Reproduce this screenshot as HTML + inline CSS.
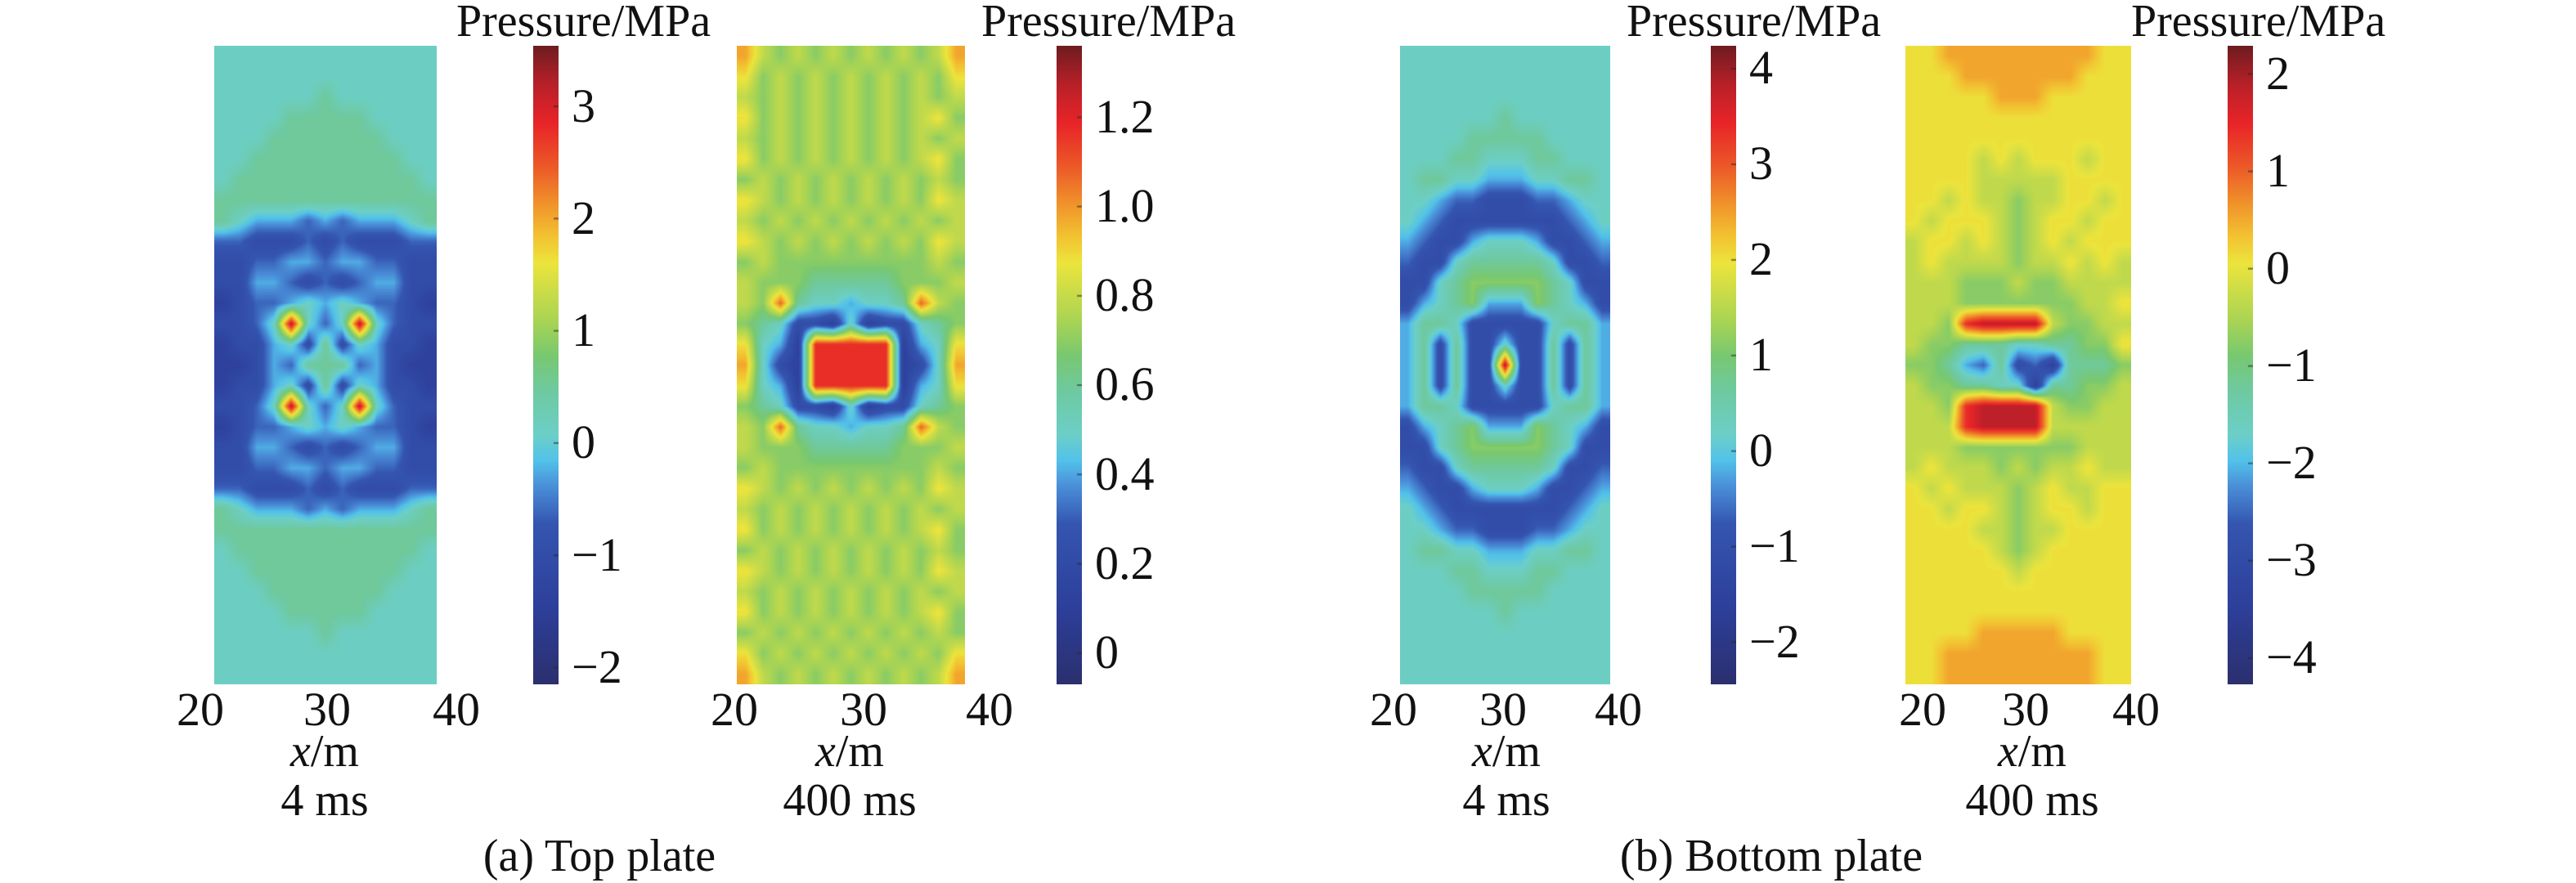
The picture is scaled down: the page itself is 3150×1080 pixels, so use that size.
<!DOCTYPE html>
<html><head><meta charset="utf-8">
<style>
html,body{margin:0;padding:0;background:#fff;}
#root{position:relative;width:3150px;height:1080px;overflow:hidden;background:#fff;}
canvas{position:absolute;}
.t{position:absolute;white-space:nowrap;line-height:1;color:#111;font-family:"Liberation Serif","Times New Roman","DejaVu Serif",serif;}
.m{transform:translateX(-50%);}
</style></head>
<body>
<div id="root"></div>
<script>
// ---- data: pressure grids as hex levels (0..f over each colorbar range) ----
const gridTop4 = [
"6666666666666","6666666666666","6666667666666","6666777776666","6667777777666",
"6677777777766","6777777777776","7777777777777","7655545455567","4433343433344",
"3344554554433","3355434345533","2344565654432","3346e646e6433","2335637365332",
"2235477745322","2335637365332","3346e646e6433","2344565654432","3355434345533",
"3344554554433","4433343433344","7655545455567","7777777777777","6777777777776",
"6677777777766","6667777777666","6666777776666","6666667666666","6666666666666","6666666666666"];
const gridTop400 = [
"b98989898989b","a89898989898a","9898989898989","a8989898989a8","9898989898989",
"a8989898989a8","8989898989898","a9898989898a9","9898989898989","a9898989898a9",
"8988888888898","9888777778889","98c7665667c98","8763326233678","a652ddddd256a",
"b632ddddd236b","a652ddddd256a","8763326233678","98c7665667c98","9888777778889",
"8988888888898","a9898989898a9","9898989898989","a8989898989a8","8989898989898",
"a9898989898a9","9898989898989","a8989898989a8","8989898989898","a89898989898a","b98989898989b"];
const gridBot4 = [
"6666666666666","6666666666666","6666666666666","6666667666666","6666777776666",
"6667766677666","6776655566776","6654433344566","6543333333456","5433566653345",
"4336777776334","3367888887633","3567855587653","5776333336775","5737336337375",
"573733e337375","5737336337375","5776333336775","3567855587653","3367888887633",
"4336777776334","5433566653345","6543333333456","6654433344566","6776655566776",
"6667766677666","6666777776666","6666667666666","6666666666666","6666666666666","6666666666666"];
const gridBot400 = [
"aabbbbbbbbbaa","aaabbbbbbbaaa","aaaaabbbaaaaa","aaaaaaaaaaaaa","aaaaaaaaaaaaa",
"aaaa9a9aaa9aa","aaaa99999aaaa","aa9a99899aa9a","a9aaa989aa9aa","9aa9a989a9aaa",
"9a9999899a9a9","9998889889999","999888888899a","998deeee98899","988777667788a",
"8875473427778","9887766277889","998deeee98899","999deeee99999","9998888888999",
"9a99989899a99","a9a99989a99aa","aa9aa989aa9aa","aaaa99899aaaa","aaaaa989aaaaa",
"aaaaaa9aaaaaa","aaaaaaaaaaaaa","aaaaaaaaaaaaa","aaaabbbbbaaaa","aabbbbbbbbbaa","aabbbbbbbbbaa"];
const ranges = [[-2.15,3.54],[-0.07,1.36],[-2.44,4.24],[-4.27,2.29]];
const ticks1 = [-2,-1,0,1,2,3];
const ticks2 = [0,0.2,0.4,0.6,0.8,1.0,1.2];
const ticks3 = [-2,-1,0,1,2,3,4];
const ticks4 = [-4,-3,-2,-1,0,1,2];
const tickLabels2 = ["0","0.2","0.4","0.6","0.8","1.0","1.2"];
const xTicks = [20,30,40];
const times = ["4 ms","400 ms","4 ms","400 ms"];

// ---- layout ----
const HT=56, HB=837;
const panels = [
 {grid:gridTop4, hx:262, hw:272, cx:652, ticks:ticks1, labels:null, title:558, xt:[245,400,558], lc:397},
 {grid:gridTop400, hx:901, hw:279, cx:1292, ticks:ticks2, labels:tickLabels2, title:1200, xt:[898,1056,1210], lc:1039},
 {grid:gridBot4, hx:1712, hw:257, cx:2092, ticks:ticks3, labels:null, title:1989, xt:[1704,1838,1979], lc:1842},
 {grid:gridBot400, hx:2330, hw:276, cx:2724, ticks:ticks4, labels:null, title:2606, xt:[2351,2477,2612], lc:2485}
];
const stops = [[0,[43,47,110]],[0.118,[45,63,154]],[0.25,[52,85,176]],[0.31,[74,143,216]],
 [0.35,[82,194,234]],[0.39,[108,207,200]],[0.46,[110,201,160]],[0.515,[120,200,112]],
 [0.57,[170,212,84]],[0.66,[236,228,60]],[0.70,[242,196,50]],[0.75,[240,150,42]],
 [0.81,[236,90,40]],[0.88,[232,36,40]],[0.94,[184,32,40]],[1,[110,28,32]]];
function cmap(t){
  t=Math.max(0,Math.min(1,t));
  for(let i=1;i<stops.length;i++){
    if(t<=stops[i][0]){const a=stops[i-1],b=stops[i];const f=(t-a[0])/(b[0]-a[0]);
      return [0,1,2].map(k=>Math.round(a[1][k]+(b[1][k]-a[1][k])*f));}
  }
  return stops[stops.length-1][1];
}
const root=document.getElementById('root');
function txt(x,y,s,size,anchor,name){
  const t=document.createElement('div');
  t.className='t'+(anchor==='middle'?' m':'');
  t.style.left=x+'px';t.style.top=(y-0.838*size)+'px';t.style.fontSize=size+'px';
  
  
  t.textContent=s;root.appendChild(t);return t;
}
panels.forEach((p,pi)=>{
  const [mn,mx]=ranges[pi];
  const rows=p.grid.length, cols=p.grid[0].length;
  const vals=p.grid.map(r=>r.split('').map(c=>mn+parseInt(c,16)/15*(mx-mn)));
  const W=p.hw, H=HB-HT;
  const cv=document.createElement('canvas');
  cv.width=W;cv.height=H;cv.style.left=p.hx+'px';cv.style.top=HT+'px';
  
  
  root.appendChild(cv);
  const ctx=cv.getContext('2d');const img=ctx.createImageData(W,H);
  for(let y=0;y<H;y++){
    let gy=(y+0.5)/H*rows-0.5;gy=Math.max(0,Math.min(rows-1,gy));
    const y0=Math.floor(gy),y1=Math.min(rows-1,y0+1),fy=gy-y0;
    for(let x=0;x<W;x++){
      let gx=(x+0.5)/W*cols-0.5;gx=Math.max(0,Math.min(cols-1,gx));
      const x0=Math.floor(gx),x1=Math.min(cols-1,x0+1),fx=gx-x0;
      const v=(vals[y0][x0]*(1-fx)+vals[y0][x1]*fx)*(1-fy)+(vals[y1][x0]*(1-fx)+vals[y1][x1]*fx)*fy;
      const c=cmap((v-mn)/(mx-mn));const i=(y*W+x)*4;
      img.data[i]=c[0];img.data[i+1]=c[1];img.data[i+2]=c[2];img.data[i+3]=255;
    }
  }
  ctx.putImageData(img,0,0);
  const cb=document.createElement('canvas');
  cb.width=31;cb.height=H;cb.style.left=p.cx+'px';cb.style.top=HT+'px';
  
  
  root.appendChild(cb);
  const c2=cb.getContext('2d');
  for(let y=0;y<H;y++){const c=cmap(1-y/(H-1));c2.fillStyle='rgb('+c+')';c2.fillRect(0,y,31,1);}
  const yOf=v=>HT+(mx-v)/(mx-mn)*H;
  p.ticks.forEach((tv,ti)=>{
    const y=yOf(tv);
    c2.fillStyle='rgba(40,40,40,0.6)';c2.fillRect(25,y-HT-1,6,2);
    const lab=p.labels?p.labels[ti]:(tv<0?'\u2212'+Math.abs(tv):String(tv));
    txt(p.cx+47,y+19,lab,58,'start','colorbar-tick-label');
  });
  txt(p.title,45,'Pressure/MPa',56,'start','colorbar-title');
  xTicks.forEach((xv,xi)=>{ txt(p.xt[xi],888,String(xv),58,'middle','x-tick-label'); });
  const xl=txt(p.lc,938,'',56,'middle','x-axis-title');
  const ti=document.createElement('i');ti.textContent='x';
  xl.appendChild(ti);xl.appendChild(document.createTextNode('/m'));
  txt(p.lc,998,times[pi],56,'middle','time-label');
});
txt(733,1066,'(a) Top plate',56,'middle','caption-top-plate');
txt(2166,1066,'(b) Bottom plate',56,'middle','caption-bottom-plate');
</script>
</body></html>
